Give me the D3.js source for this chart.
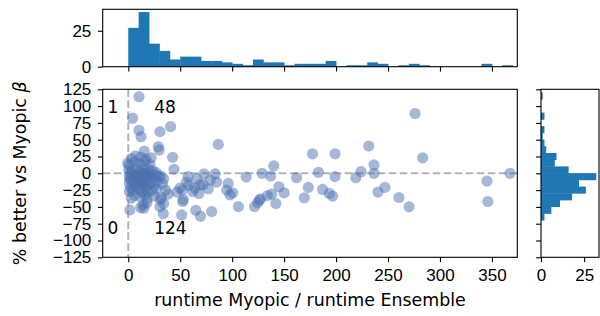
<!DOCTYPE html>
<html>
<head>
<meta charset="utf-8">
<script src="https://cdn.jsdelivr.net/npm/d3@7"></script>
<style>
  body { margin: 0; background: #fff; }
  svg { display: block; font-family: "DejaVu Sans", sans-serif; }
  .tick text { font-size: 17px; fill: #000; }
  .tick line { stroke: #000; stroke-width: 1.1; }
</style>
</head>
<body>
<script>
// runtime ratio (x) and % better (y) per instance
var runtimeRatio = [
  -0.6, 4.2, 10.3, 10.3, 12.3, 15.4, 28.9, 29.8, 30.5, 1.6, 2.3, 14.4, 15, 38.5, 33.7, 30.5,
  3, 7, 1, 6, 0.5, 4, 8, 2, 1, 3, 5, 7, 9, 1.5, 1, 4, 6, 8, 1, 5, 8, 3, 6,
  12, 17, 11, 16, 11, 14, 18, 19, 10.5, 12, 13.5, 15, 16, 17.5, 19, 14, 18.5,
  11, 13, 15, 17, 19, 14, 11, 14, 17, 19, 12, 16, 18, 18, 12,
  22, 21, 23, 27, 21, 24, 26, 29, 22, 25, 28, 23, 27, 25,
  31, 34, 33, 36, 32, 31, 34,
  40.8, 42.7, 44, 49.8, 47, 51.4, 52.4, 53, 52, 57.7, 56, 58, 65, 64, 69, 68, 69.5, 66, 62,
  73, 72, 77, 79, 80.3, 83.5, 85, 86.6, 96.2, 94.7, 97.9, 100.5, 106, 113.5, 121.5, 126,
  127.5, 128.7, 124.5, 137, 138, 134, 140, 142, 145, 150, 162, 169.4, 173.3, 177.3, 183,
  187, 193.5, 196.7, 199, 199, 219, 224, 231.4, 236.5, 236.5, 240.3, 247, 260.5, 270.2,
  276, 283.3, 345.2, 346, 367.4
];
var pctBetter = [
  15, 82, 114, 64, 54.5, 33, 39.6, 34.7, 62, -54.6, -22, -47, -52, -31, -60, -49.6,
  22, 26, 12, 17, 5, 2, 8, 0.5, -4, -8, -2, -6, -3, -9, -15, -12, -18, -14, -27, -25, -21, -37, -33,
  24, 21, 14, 18, 3, 7, 1, 6, -2, -7, -4, -9, -1, -5, -8, -0.5, -2.5,
  -13, -18, -15, -11, -17, -12, -24, -28, -22, -27, -35, -32, -38, -44, -51,
  23, 13, 4, 1, -3, -7, -2, -5, -14, -18, -12, -26, -23, -34,
  -4, -8, -16, -25, -36, -39, -45,
  69.5, 23.8, 6, -22, -28, -62, -42, -39, -25, -5, -13, -18, -55, -22, -17, -30, -64, -8, -27,
  -1, -17, -23, -10, -57, -1, -13, 43, -15, -25, -32, -29, -49.6, -5.5, -49.6, -40,
  -38, 0, -44, -4, -31, -33, 11, -45, -20, -29, -6.5, -36.5, -21, 29, 1.5,
  -24, -30, -34, 29, -5, -6.5, 2.4, 40.6, 12.4, 0, -28, -21, -36, -50,
  89, 23, -11.5, -42, 0
];

// marginal histograms
var xBinEdges = [0, 10, 20, 30, 40, 50, 60, 70, 80, 90, 100, 110, 120, 130, 140, 150, 160, 170,
  180, 190, 200, 210, 220, 230, 240, 250, 260, 270, 280, 290, 300, 310, 320, 330, 340, 350, 360, 370];
var xCounts = [27, 38, 16, 11, 5, 7, 7, 4, 4, 3, 2, 1, 5, 3, 3, 1, 2, 2, 2, 4, 0, 1, 1, 3, 2, 0,
  1, 2, 1, 0, 0, 0, 0, 0, 2, 0, 1];
var yBinEdges = [-70, -60, -50, -40, -30, -20, -10, 0, 10, 20, 30, 40, 50, 60, 70, 80, 90, 100, 110, 120];
var yCounts = [2, 6, 11, 18, 26, 22, 32, 16, 8, 9, 3, 2, 1, 2, 0, 2, 0, 0, 1];

var xTicks = [0, 50, 100, 150, 200, 250, 300, 350];
var yTicks = [-125, -100, -75, -50, -25, 0, 25, 50, 75, 100, 125];

// quadrant counts
var quadLabels = [
  {x: -20, y: 90, text: "1"},
  {x: 25, y: 90, text: "48"},
  {x: -20, y: -90, text: "0"},
  {x: 25, y: -90, text: "124"}
];

var width = 600, height = 316;
var main = {left: 102.7, right: 517.3, top: 89.3, bottom: 257.3};
var topBox = {top: 9.3, bottom: 66.7};
var sideBox = {left: 541, right: 599};
var tickLen = 4.9, tickPad = 6.5;

var svg = d3.select("body").append("svg")
    .attr("width", width)
    .attr("height", height);

var x = d3.scaleLinear().domain([-24.6, 374.4]).range([main.left, main.right]);
var y = d3.scaleLinear().domain([-125, 125]).range([main.bottom, main.top]);
var yTop = d3.scaleLinear().domain([0, 39.9]).range([topBox.bottom, topBox.top]);
var xSide = d3.scaleLinear().domain([0, 33.6]).range([sideBox.left, sideBox.right]);

var barColor = "#1f77b4";

// ---- top histogram (bars widened a hair so no seams show)
svg.append("g")
  .selectAll("rect")
  .data(xCounts)
  .enter().append("rect")
  .attr("x", function(d, i) { return x(xBinEdges[i]); })
  .attr("width", function(d, i) { return x(xBinEdges[i + 1]) - x(xBinEdges[i]) + 0.4; })
  .attr("y", function(d) { return yTop(d); })
  .attr("height", function(d) { return topBox.bottom - yTop(d); })
  .attr("fill", barColor);

svg.append("g")
  .attr("transform", "translate(0," + topBox.bottom + ")")
  .call(d3.axisBottom(x).tickValues(xTicks).tickSize(tickLen).tickFormat(""));
svg.append("g")
  .attr("transform", "translate(" + main.left + ",0)")
  .call(d3.axisLeft(yTop).tickValues([0, 25]).tickSize(tickLen).tickPadding(tickPad));

// ---- side histogram
svg.append("g")
  .selectAll("rect")
  .data(yCounts)
  .enter().append("rect")
  .attr("x", sideBox.left)
  .attr("y", function(d, i) { return y(yBinEdges[i + 1]) - 0.2; })
  .attr("height", function(d, i) { return y(yBinEdges[i]) - y(yBinEdges[i + 1]) + 0.4; })
  .attr("width", function(d) { return xSide(d) - sideBox.left; })
  .attr("fill", barColor);

svg.append("g")
  .attr("transform", "translate(0," + main.bottom + ")")
  .call(d3.axisBottom(xSide).tickValues([0, 25]).tickSize(tickLen).tickPadding(tickPad));
svg.append("g")
  .attr("transform", "translate(" + sideBox.left + ",0)")
  .call(d3.axisLeft(y).tickValues(yTicks).tickSize(tickLen).tickFormat(""));

// ---- main scatter
var guides = svg.append("g")
  .attr("stroke", "#808080")
  .attr("stroke-opacity", 0.6)
  .attr("stroke-width", 2)
  .attr("stroke-dasharray", "7.7,3.3");
guides.append("line")
  .attr("x1", x(0)).attr("x2", x(0))
  .attr("y1", main.top).attr("y2", main.bottom);
guides.append("line")
  .attr("x1", main.left).attr("x2", main.right)
  .attr("y1", y(0)).attr("y2", y(0));

svg.append("g")
  .selectAll("circle")
  .data(runtimeRatio)
  .enter().append("circle")
  .attr("cx", function(d) { return x(d); })
  .attr("cy", function(d, i) { return y(pctBetter[i]); })
  .attr("r", 5.6)
  .attr("fill", "#4c72b0")
  .attr("fill-opacity", 0.5);

svg.append("g")
  .selectAll("text")
  .data(quadLabels)
  .enter().append("text")
  .attr("x", function(d) { return x(d.x); })
  .attr("y", function(d) { return y(d.y); })
  .style("font-size", "17px")
  .text(function(d) { return d.text; });

svg.append("g")
  .attr("transform", "translate(0," + main.bottom + ")")
  .call(d3.axisBottom(x).tickValues(xTicks).tickSize(tickLen).tickPadding(tickPad));
svg.append("g")
  .attr("transform", "translate(" + main.left + ",0)")
  .call(d3.axisLeft(y).tickValues(yTicks).tickSize(tickLen).tickPadding(tickPad));

// no axis domain paths, spines drawn as frames
svg.selectAll(".domain").remove();

function frame(x0, x1, y0, y1) {
  svg.append("rect")
    .attr("x", x0).attr("y", y0)
    .attr("width", x1 - x0).attr("height", y1 - y0)
    .attr("fill", "none")
    .attr("stroke", "#000")
    .attr("stroke-width", 1.1);
}
frame(main.left, main.right, topBox.top, topBox.bottom);
frame(main.left, main.right, main.top, main.bottom);
frame(sideBox.left, sideBox.right, main.top, main.bottom);

// axis labels
svg.append("text")
  .attr("x", (main.left + main.right) / 2)
  .attr("y", 306)
  .attr("text-anchor", "middle")
  .style("font-size", "17.4px")
  .text("runtime Myopic / runtime Ensemble");

var ylab = svg.append("text")
  .attr("transform", "translate(26," + ((main.top + main.bottom) / 2) + ") rotate(-90)")
  .attr("text-anchor", "middle")
  .style("font-size", "17.4px");
ylab.append("tspan").text("% better vs Myopic ");
ylab.append("tspan").style("font-style", "italic").text("β");
</script>
</body>
</html>
